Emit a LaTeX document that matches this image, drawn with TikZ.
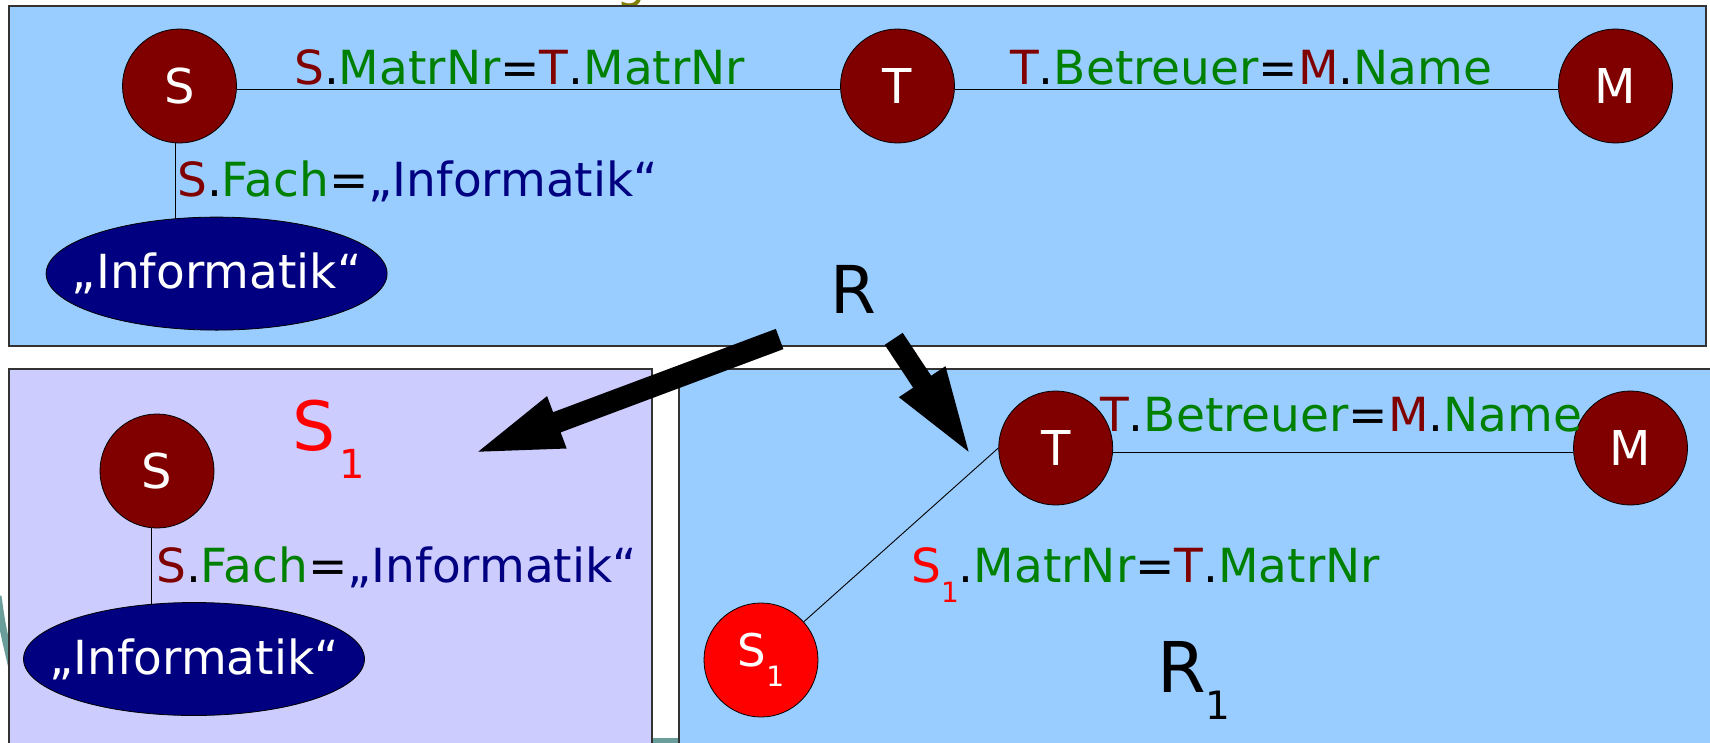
\documentclass[tikz,border=0pt]{standalone}
\usepackage{fontspec}
\setmainfont{DejaVu Sans}
\usetikzlibrary{calc,shapes.geometric}
\definecolor{dred}{HTML}{800000}
\definecolor{dgreen}{HTML}{008000}
\definecolor{dnavy}{HTML}{000080}
\definecolor{boxblue}{HTML}{99CCFF}
\definecolor{boxlav}{HTML}{CCCCFF}
\definecolor{tealish}{HTML}{6A9E9A}
\definecolor{olivec}{HTML}{808000}
\pgfdeclarelayer{boxes}
\pgfdeclarelayer{edges}
\pgfsetlayers{boxes,edges,main}
\newcommand\fs[1]{\fontsize{#1}{#1}\selectfont}
\newcommand\blockarrow[3]{% #1 tail, #2 tip, #3 name
  \coordinate (#3c) at ($(#2)!84pt!(#1)$);
  \fill[black] ($(#1)!10.8pt!90:(#2)$) -- ($(#3c)!10.8pt!90:(#2)$) -- ($(#3c)!28pt!90:(#2)$)
    -- (#2) -- ($(#3c)!28pt!-90:(#2)$) -- ($(#3c)!10.8pt!-90:(#2)$) -- ($(#1)!10.8pt!-90:(#2)$) -- cycle;}
\begin{document}
\begin{tikzpicture}[x=1pt,y=-1pt,
  ent/.style={circle,draw=black,line width=0.8pt,fill=dred,text=white,minimum size=114pt,inner sep=0pt,font=\fs{48}},
  val/.style={ellipse,draw=black,line width=0.8pt,fill=dnavy,text=white,minimum width=341pt,minimum height=113pt,inner sep=0pt,font=\fs{47}},
  lbl/.style={anchor=base west,inner sep=0pt,font=\fs{47}},
  frame/.style={draw=black!80,line width=1.2pt},
  conn/.style={draw=black,line width=0.9pt}]
\useasboundingbox (0,0) rectangle (1710,742);

% background fragments
\begin{pgfonlayer}{boxes}
\fill[white] (0,0) rectangle (1710,742);
\node[anchor=base west,inner sep=0pt,text=olivec,font=\fs{47}] (gfrag) at (616,-3) {g};
\draw[tealish,line width=7pt] (-2,596) .. controls (2,625) .. (12,668);
\fill[tealish] (650,738) rectangle (682,745);
\draw[frame,fill=boxblue] (9,6) rectangle (1706,346);
\draw[frame,fill=boxlav] (9,369) rectangle (652,760);
\draw[frame,fill=boxblue] (679,369) rectangle (1712,760);
\end{pgfonlayer}

% top region
\node[ent] (S) at (179.5,86) {S};
\node[ent] (T) at (897.5,86) {T};
\node[ent] (M) at (1615.5,86) {M};
\node[val] (inf) at (216.6,273.6) {\makebox[0pt]{„Informatik“}};
\begin{pgfonlayer}{edges}
\draw[conn] ([yshift=-3pt]S.east) -- ([yshift=-3pt]T.west);
\draw[conn] ([yshift=-3pt]T.east) -- ([yshift=-3pt]M.west);
\draw[conn] ([xshift=-4.5pt]S.south) -- ([xshift=-4.5pt]S.south |- inf.center);
\end{pgfonlayer}
\node[lbl] (l1) at (294,84) {\textcolor{dred}{S}.\textcolor{dgreen}{MatrNr}=\textcolor{dred}{T}.\textcolor{dgreen}{MatrNr}};
\node[lbl] (l2) at (1010,84) {\textcolor{dred}{T}.\textcolor{dgreen}{Betreuer}=\textcolor{dred}{M}.\textcolor{dgreen}{Name}};
\node[lbl] (l3) at (177,196) {\textcolor{dred}{S}.\textcolor{dgreen}{Fach}=\textcolor{dnavy}{„Informatik“}};
\node[lbl,font=\fs{66}] (rlbl) at (830,313) {R};

% S1 region
\node[ent] (S2) at (157,471) {S};
\node[val] (inf2) at (194,659) {\makebox[0pt]{„Informatik“}};
\begin{pgfonlayer}{edges}
\draw[conn] ([xshift=-5.4pt]S2.south) -- ([xshift=-5.4pt]S2.south |- inf2.center);
\end{pgfonlayer}
\node[lbl] (l4) at (156,582) {\textcolor{dred}{S}.\textcolor{dgreen}{Fach}=\textcolor{dnavy}{„Informatik“}};
\node[lbl,text=red,font=\fs{68}] (s1lbl) at (292,450) {S\kern4pt\raisebox{-28pt}{\fs{40}1}};

% R1 region
\node[ent] (T2) at (1055.7,448) {T};
\node[ent] (M2) at (1630.5,448) {M};
\node[ent,fill=red,font=\fs{45}] (S1c) at (761,660) {S\raisebox{-20pt}{\fs{28}1}};
\begin{pgfonlayer}{edges}
\draw[conn] ([yshift=-4pt]T2.east) -- ([yshift=-4pt]M2.west);
\draw[conn] (S1c) -- (T2.west);
\end{pgfonlayer}
\node[lbl] (l5) at (1100,431) {\textcolor{dred}{T}.\textcolor{dgreen}{Betreuer}=\textcolor{dred}{M}.\textcolor{dgreen}{Name}};
\node[lbl] (l6) at (911,582) {\textcolor{red}{S\raisebox{-20pt}{\fs{28}1}}.\textcolor{dgreen}{MatrNr}=\textcolor{dred}{T}.\textcolor{dgreen}{MatrNr}};
\node[lbl,font=\fs{70}] (r1lbl) at (1157,692.7) {R\raisebox{-27pt}{\fs{39}1}};

% big arrows
\coordinate (a1t) at (779.6,339);
\coordinate (a1h) at (478.2,451.7);
\coordinate (a2t) at (893.7,338.8);
\coordinate (a2h) at (968.6,451.7);
\blockarrow{a1t}{a1h}{arA}
\blockarrow{a2t}{a2h}{arB}
\end{tikzpicture}
\end{document}
